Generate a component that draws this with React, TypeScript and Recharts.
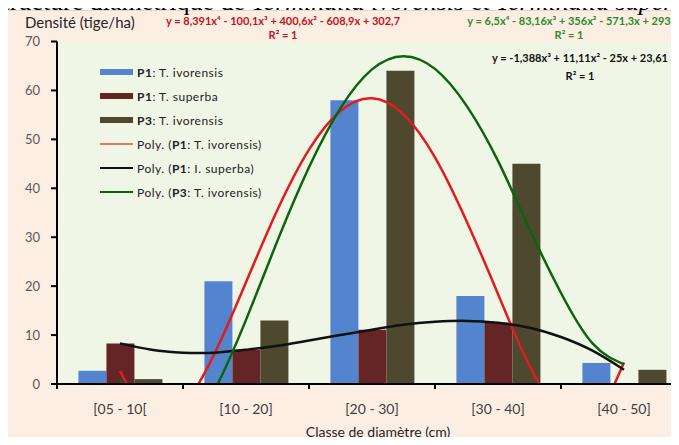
import React from 'react';
import { ComposedChart, Bar, Line, XAxis, YAxis, CartesianGrid } from 'recharts';

const categories = ['[05 - 10[', '[10 - 20]', '[20 - 30]', '[30 - 40]', '[40 - 50]'];
const p1Ivorensis = [2.7, 21, 58, 18, 4.3];
const p1Superba = [8.3, 7, 11.1, 12.5, null];
const p3Ivorensis = [1, 13, 64, 45, 2.9];
const yTicks = [0, 10, 20, 30, 40, 50, 60, 70];

// trend curves at quarter-class steps (class centres = 1..5)
const curveX = [1, 1.25, 1.5, 1.75, 2, 2.25, 2.5, 2.75, 3, 3.25, 3.5, 3.75, 4, 4.25, 4.5, 4.75, 5];
const polyP1Ivorensis = [2.7, -7.5, -4.7, 6.2, 20.8, 35.6, 47.9, 55.8, 58.4, 55.1, 46.3, 33.3, 18.4, 3.7, -6, -7.4, 4.4];
const polyP1Superba = [8.3, 7, 6.4, 6.4, 7, 7.8, 8.9, 10, 11.1, 12.1, 12.7, 12.9, 12.5, 11.5, 9.6, 6.8, 2.9];
const polyP3Ivorensis = [1, -11.4, -10.8, -1.3, 13.1, 29.3, 44.3, 56.4, 64.3, 67, 64.4, 56.9, 45.6, 31.7, 18.6, 8.3, 4];

const BLUE = '#5484cd';
const MAROON = '#652526';
const OLIVE = '#4e482e';
const RED = '#e41a1c';
const BLACK = '#111111';
const GREEN = '#0b660b';

const barData = categories.map((cat, i) => ({
  cat,
  a: p1Ivorensis[i],
  b: p1Superba[i],
  c: p3Ivorensis[i],
}));

const curve = (vals: number[]) => curveX.map((x, i) => ({ x, y: vals[i] }));

const FONT = 'Lato, "Open Sans", sans-serif';

const CatTick = (props: any) => {
  const { x, y, payload } = props;
  const half = payload && payload.offset ? payload.offset : 63;
  return (
    <g>
      <line x1={x - half} x2={x - half} y1={y - 5} y2={y} stroke="#000" strokeWidth={2} />
      <text x={x} y={y + 25} textAnchor="middle" fill="#404040" fontSize={14} fontFamily={FONT}>
        {payload.value}
      </text>
    </g>
  );
};

const legendItems = [
  { kind: 'bar', color: BLUE, pre: '', bold: 'P1', post: ': T. ivorensis' },
  { kind: 'bar', color: MAROON, pre: '', bold: 'P1', post: ': T. superba' },
  { kind: 'bar', color: OLIVE, pre: '', bold: 'P3', post: ': T. ivorensis' },
  { kind: 'line', color: '#e07868', pre: 'Poly. (', bold: 'P1', post: ': T. ivorensis)' },
  { kind: 'line', color: BLACK, pre: 'Poly. (', bold: 'P1', post: ': I. superba)' },
  { kind: 'line', color: GREEN, pre: 'Poly. (', bold: 'P3', post: ': T. ivorensis)' },
];

const abs = (left: number, top: number, extra: React.CSSProperties = {}): React.CSSProperties => ({
  position: 'absolute',
  left,
  top,
  whiteSpace: 'nowrap',
  fontFamily: FONT,
  ...extra,
});

const App: React.FC = () => {
  return (
    <div style={{ position: 'relative', width: 679, height: 445, margin: -8, overflow: 'hidden', background: '#fff' }}>
      <div
        style={{
          position: 'absolute',
          left: 7,
          top: 10,
          width: 720,
          height: 440,
          background: '#fdeee3',
          borderLeft: '1px solid #a0a0a0',
          borderTop: '1px solid #e6d6c8',
        }}
      />

      <div style={{ position: 'absolute', left: 0, top: 0 }}>
        <ComposedChart
          width={700}
          height={445}
          data={barData}
          margin={{ top: 41.5, right: 13, bottom: 31, left: 0 }}
          barCategoryGap="17%"
          barGap={0}
          style={{ fontFamily: FONT }}
        >
          <CartesianGrid xAxisId="cat" horizontal={false} vertical={false} fill="#f0f6e6" />
          <XAxis
            xAxisId="cat"
            dataKey="cat"
            height={30}
            tickLine={false}
            tickSize={5}
            tickMargin={0}
            interval={0}
            axisLine={{ stroke: '#000', strokeWidth: 2 }}
            tick={<CatTick />}
          />
          <XAxis xAxisId="num" dataKey="x" type="number" domain={[0.5, 5.5]} allowDataOverflow hide />
          <YAxis
            width={57}
            domain={[0, 70]}
            ticks={yTicks}
            interval={0}
            allowDataOverflow
            tickSize={6}
            tickMargin={11}
            axisLine={{ stroke: '#000', strokeWidth: 2 }}
            tickLine={{ stroke: '#000', strokeWidth: 2 }}
            tick={{ fill: '#5a5a5a', fontSize: 13, fontFamily: FONT }}
          />
          <Bar xAxisId="cat" dataKey="a" fill={BLUE} isAnimationActive={false} />
          <Bar xAxisId="cat" dataKey="b" fill={MAROON} isAnimationActive={false} />
          <Bar xAxisId="cat" dataKey="c" fill={OLIVE} isAnimationActive={false} />
          <Line
            xAxisId="num"
            data={curve(polyP1Ivorensis)}
            dataKey="y"
            type="natural"
            stroke={RED}
            strokeWidth={2.5}
            dot={false}
            activeDot={false}
            isAnimationActive={false}
          />
          <Line
            xAxisId="num"
            data={curve(polyP1Superba)}
            dataKey="y"
            type="natural"
            stroke={BLACK}
            strokeWidth={2.5}
            dot={false}
            activeDot={false}
            isAnimationActive={false}
          />
          <Line
            xAxisId="num"
            data={curve(polyP3Ivorensis)}
            dataKey="y"
            type="natural"
            stroke={GREEN}
            strokeWidth={2.5}
            dot={false}
            activeDot={false}
            isAnimationActive={false}
          />
        </ComposedChart>
      </div>

      {/* cut-off caption above the chart */}
      <div
        style={abs(-12, -11, {
          fontFamily: '"Liberation Serif", serif',
          fontSize: 26,
          lineHeight: '26px',
          color: '#000',
          zIndex: 3,
        })}
      >
        Structure diamétrique de <i>Terminalia ivorensis</i> et <i>Terminalia superba</i>
      </div>

      <div style={abs(25, 13, { fontSize: 15, lineHeight: '18px', color: '#262626' })}>Densité (tige/ha)</div>

      {/* trendline equations */}
      <div style={abs(166, 14, { width: 234, textAlign: 'center', fontSize: 11, fontWeight: 700, lineHeight: '14px', color: '#c0141c' })}>
        y = 8,391x⁴ - 100,1x³ + 400,6x² - 608,9x + 302,7
        <br />R² = 1
      </div>
      <div style={abs(453, 14, { width: 232, textAlign: 'center', fontSize: 11, fontWeight: 700, lineHeight: '14px', color: '#2a8c2a' })}>
        y = 6,5x⁴ - 83,16x³ + 356x² - 571,3x + 293
        <br />R² = 1
      </div>
      <div style={abs(479, 49, { width: 202, textAlign: 'center', fontSize: 11, fontWeight: 700, lineHeight: '18px', color: '#111' })}>
        y = -1,388x³ + 11,11x² - 25x + 23,61
        <br />R² = 1
      </div>

      {/* legend */}
      {legendItems.map((it, i) => (
        <div key={i} style={abs(100, 64 + i * 24, { height: 16, display: 'flex', alignItems: 'center' })}>
          <span
            style={{
              display: 'inline-block',
              width: 33,
              height: it.kind === 'bar' ? 6 : 2,
              background: it.color,
              marginRight: 4,
            }}
          />
          <span style={{ fontSize: 12, letterSpacing: 0.5, color: '#222' }}>
            {it.pre}
            <b>{it.bold}</b>
            {it.post}
          </span>
        </div>
      ))}

      <div style={abs(378, 423, { transform: 'translateX(-50%)', fontSize: 14, lineHeight: '18px', color: '#262626' })}>
        Classe de diamètre (cm)
      </div>
    </div>
  );
};

export default App;
